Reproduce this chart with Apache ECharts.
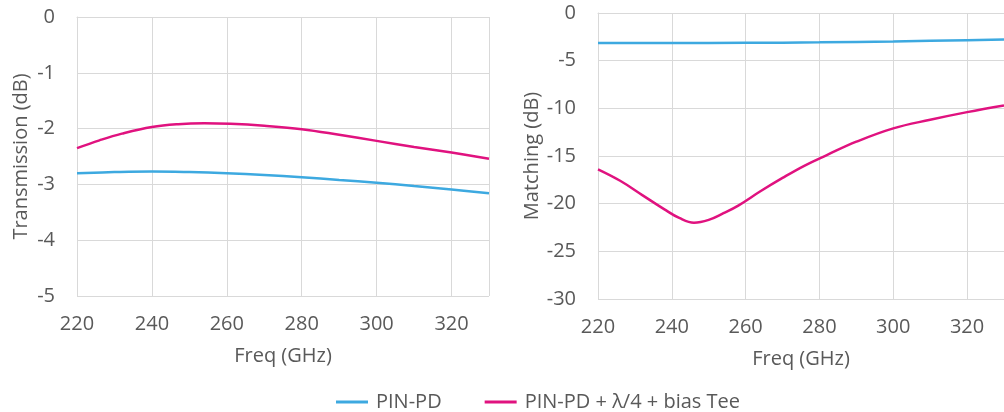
<!DOCTYPE html>
<html>
<head>
<meta charset="utf-8">
<script src="https://cdn.jsdelivr.net/npm/echarts@6/dist/echarts.min.js"></script>
<style>
html,body{margin:0;padding:0;background:#fff;}
#c{width:1004px;height:412px;}
</style>
</head>
<body>
<div id="c"></div>
<script>
const seriesNames = ['PIN-PD', 'PIN-PD + λ/4 + bias Tee'];

// Transmission (left panel)
const transPinFreq = [220, 230, 240, 250, 260, 270, 280, 290, 300, 310, 320, 330];
const transPin = [-2.80, -2.78, -2.77, -2.78, -2.80, -2.83, -2.87, -2.92, -2.97, -3.03, -3.09, -3.16];
const transBiasFreq = [220, 226, 232, 240, 247, 254, 261, 270, 280, 290, 300, 310, 320, 330];
const transBias = [-2.35, -2.21, -2.09, -1.97, -1.92, -1.905, -1.915, -1.95, -2.01, -2.11, -2.22, -2.33, -2.43, -2.54];

// Matching (right panel)
const matchPinFreq = [220, 240, 260, 280, 300, 320, 330];
const matchPin = [-3.15, -3.15, -3.13, -3.08, -2.98, -2.85, -2.78];
const matchBiasFreq = [220, 226, 232, 238, 242, 246, 250, 254, 258, 264, 270, 276, 282, 290, 300, 310, 320, 330];
const matchBias = [-16.4, -17.6, -19.1, -20.6, -21.5, -22.0, -21.7, -21.0, -20.2, -18.7, -17.3, -16.0, -14.9, -13.5, -12.1, -11.2, -10.4, -9.7];

const pair = (xs, ys) => xs.map((x, i) => [x, ys[i]]);

const txt = '#595959';
const gridC = '#D9D9D9';
const font = 'Open Sans';
const blue = '#3DA9E0';
const pink = '#E0127F';

function xAxis(idx) {
  return {
    type: 'value', gridIndex: idx, min: 220, max: 330, interval: 20,
    name: 'Freq (GHz)', nameLocation: 'middle', nameGap: 50,
    nameTextStyle: {color: txt, fontSize: 20, fontFamily: font},
    axisLine: {show: true, lineStyle: {color: gridC, width: 1}},
    axisTick: {show: false},
    axisLabel: {color: txt, fontSize: 20, fontFamily: font, margin: 18, showMaxLabel: false,
      formatter: v => (v % 20 === 0 ? String(v) : '')},
    splitLine: {show: true, lineStyle: {color: gridC, width: 1}}
  };
}
function yAxis(idx, min, interval, name, gap) {
  return {
    type: 'value', gridIndex: idx, min: min, max: 0, interval: interval,
    name: name, nameLocation: 'middle', nameGap: gap,
    nameTextStyle: {color: txt, fontSize: 20, fontFamily: font},
    axisLine: {show: true, lineStyle: {color: gridC, width: 1}},
    axisTick: {show: false},
    axisLabel: {color: txt, fontSize: 20, fontFamily: font, margin: 22},
    splitLine: {show: true, lineStyle: {color: gridC, width: 1}}
  };
}
function line(name, data, color, idx) {
  return {
    name: name, type: 'line', xAxisIndex: idx, yAxisIndex: idx, data: data,
    smooth: 0.4, showSymbol: false, symbol: 'none',
    lineStyle: {color: color, width: 2.5}, itemStyle: {color: color}
  };
}

const chart = echarts.init(document.getElementById('c'), null, {renderer: 'canvas'});
chart.setOption({
  animation: false,
  backgroundColor: '#fff',
  grid: [
    {left: 77, top: 17, width: 412, height: 279},
    {left: 598, top: 13, width: 410, height: 286}
  ],
  xAxis: [xAxis(0), xAxis(1)],
  yAxis: [yAxis(0, -5, 1, 'Transmission (dB)', 46), yAxis(1, -30, 5, 'Matching (dB)', 56)],
  legend: {
    data: seriesNames, left: 331, top: 387, icon: 'rect', itemWidth: 32, itemHeight: 3, itemGap: 43,
    textStyle: {color: txt, fontSize: 20, fontFamily: font, padding: [0, 0, 0, 3]}
  },
  series: [
    line(seriesNames[0], pair(transPinFreq, transPin), blue, 0),
    line(seriesNames[1], pair(transBiasFreq, transBias), pink, 0),
    line(seriesNames[0], pair(matchPinFreq, matchPin), blue, 1),
    line(seriesNames[1], pair(matchBiasFreq, matchBias), pink, 1)
  ]
});
</script>
</body>
</html>
